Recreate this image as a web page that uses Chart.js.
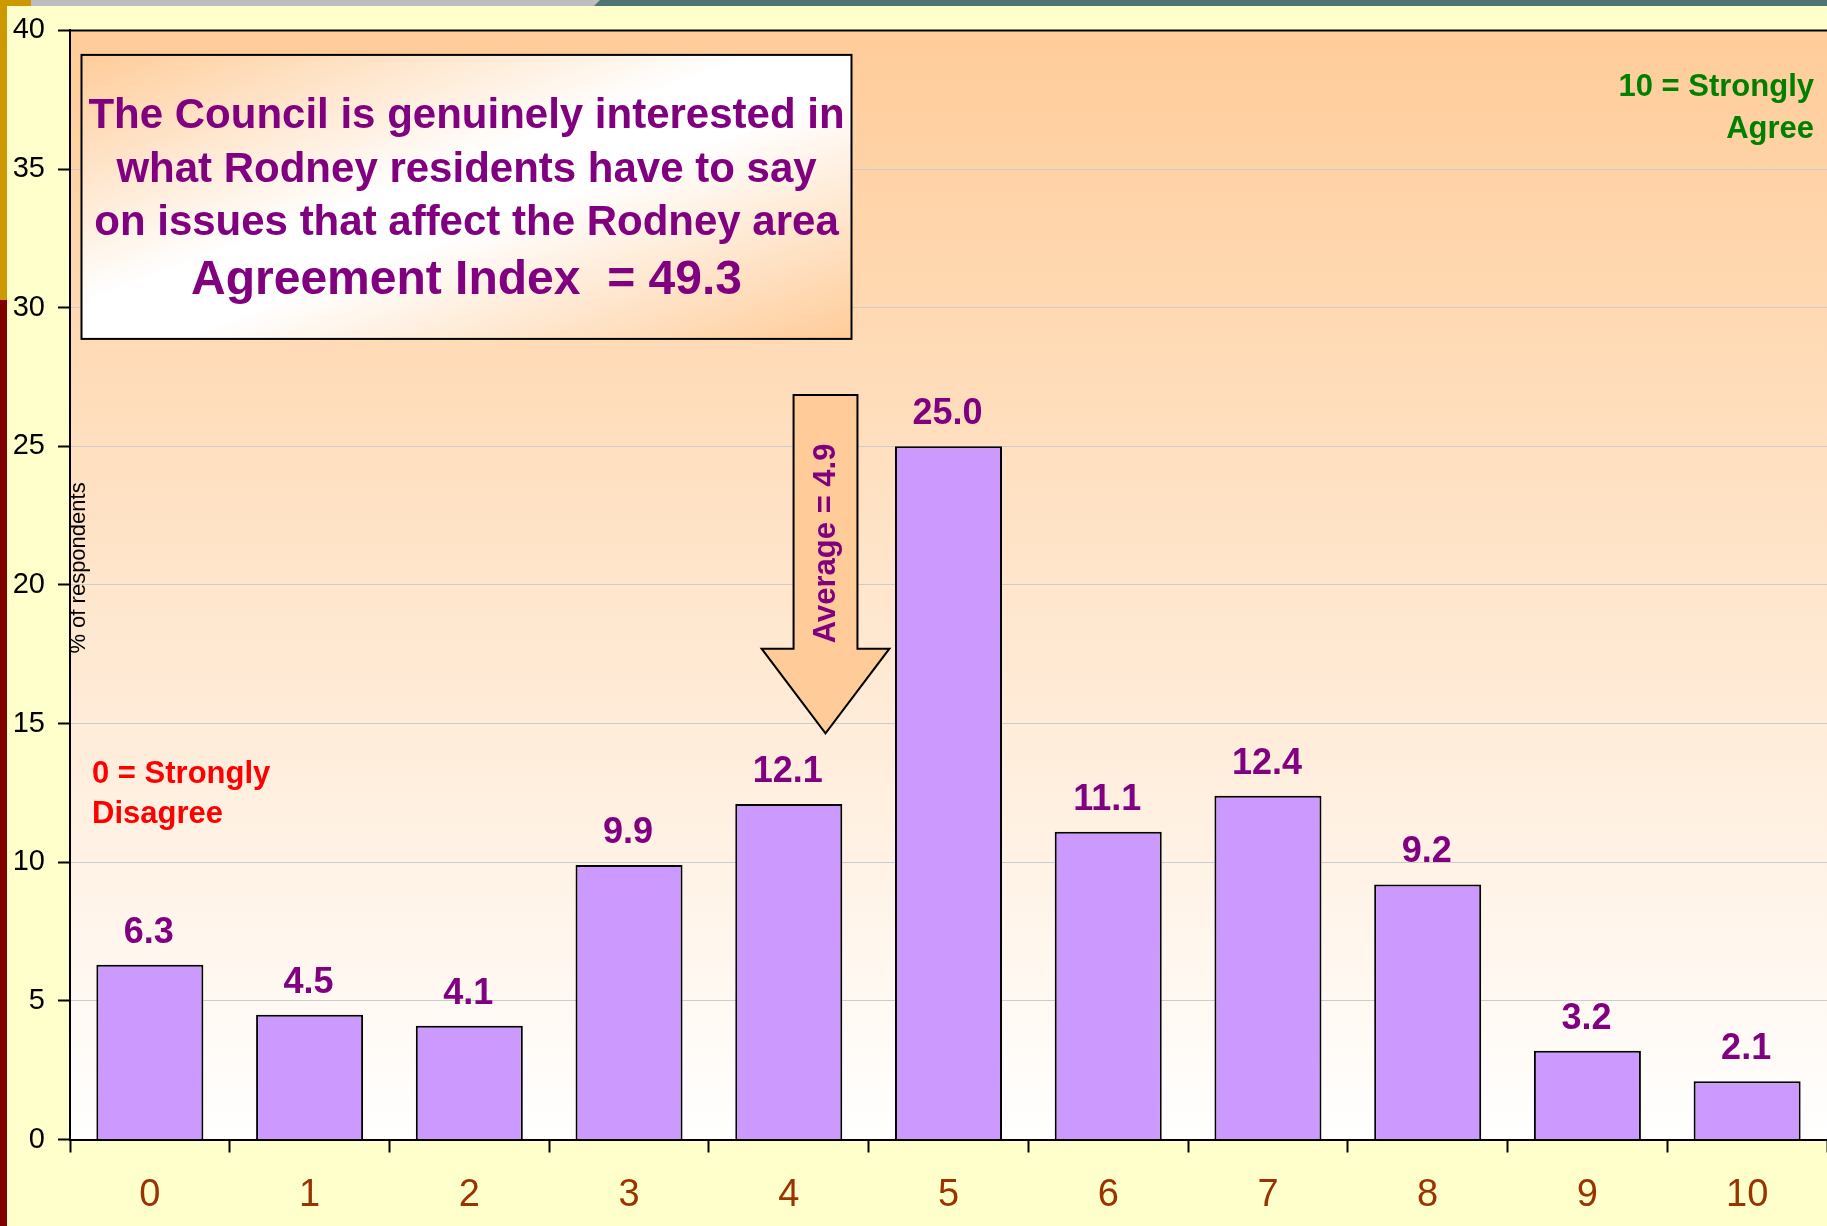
<!DOCTYPE html>
<html>
<head>
<meta charset="utf-8">
<title>Council interest rating</title>
<script src="https://cdn.jsdelivr.net/npm/chart.js@4.4.1/dist/chart.umd.min.js"></script>
<style>
  html, body { margin: 0; padding: 0; background: #FFFFCC; overflow: hidden; }
  canvas { display: block; }
</style>
</head>
<body>
<canvas id="chart" width="1827" height="1226"></canvas>
<script>
// Rating scale 0 (strongly disagree) .. 10 (strongly agree)
const categories = ['0', '1', '2', '3', '4', '5', '6', '7', '8', '9', '10'];
// Share of respondents giving each rating (%)
const respondents = [6.3, 4.5, 4.1, 9.9, 12.1, 25.0, 11.1, 12.4, 9.2, 3.2, 2.1];
// Value axis ticks
const yTickValues = [0, 5, 10, 15, 20, 25, 30, 35, 40];

const statementLines = [
  'The Council is genuinely interested in',
  'what Rodney residents have to say',
  'on issues that affect the Rodney area'
];
const agreementIndex = 49.3;
const averageScore = 4.9;
const highEndLabel = ['10 = Strongly', 'Agree'];
const lowEndLabel = ['0 = Strongly', 'Disagree'];
const yAxisTitle = '% of respondents';

const FONT = '"Liberation Sans", Arial, Helvetica, sans-serif';
const PURPLE = '#800080';

// Slide background, frame strips and the plot-area wash
const backdrop = {
  id: 'backdrop',
  beforeDraw(chart) {
    const { ctx, chartArea: a, width, height } = chart;
    ctx.save();
    ctx.fillStyle = '#FFFFCC';
    ctx.fillRect(0, 0, width, height);

    ctx.fillStyle = '#BDBDBD';
    ctx.fillRect(0, 0, 600, 6);
    ctx.fillStyle = '#4E7573';
    ctx.beginPath();
    ctx.moveTo(600, 0); ctx.lineTo(width, 0); ctx.lineTo(width, 6); ctx.lineTo(594, 6);
    ctx.closePath(); ctx.fill();
    ctx.fillStyle = '#CC9900';
    ctx.fillRect(0, 0, 31, 6);
    ctx.fillRect(0, 0, 7, 300);
    ctx.fillStyle = '#800000';
    ctx.fillRect(0, 300, 7, height - 300);

    const g = ctx.createLinearGradient(0, a.top, 0, a.bottom);
    g.addColorStop(0, '#FFCC99');
    g.addColorStop(1, '#FFFFFF');
    ctx.fillStyle = g;
    ctx.fillRect(a.left, a.top, a.right - a.left, a.bottom - a.top);
    ctx.restore();
  }
};

// Value labels, callouts and axis title
const overlays = {
  id: 'overlays',
  afterDatasetsDraw(chart) {
    const { ctx, chartArea: a } = chart;
    const xs = chart.scales.x, ys = chart.scales.y;
    ctx.save();

    // plot-area top edge
    ctx.strokeStyle = '#000';
    ctx.lineWidth = 2;
    ctx.beginPath();
    ctx.moveTo(a.left, a.top); ctx.lineTo(a.right, a.top);
    ctx.stroke();

    // values above the bars
    ctx.fillStyle = PURPLE;
    ctx.font = 'bold 36px ' + FONT;
    ctx.textAlign = 'center';
    ctx.textBaseline = 'alphabetic';
    chart.getDatasetMeta(0).data.forEach((bar, i) => {
      ctx.fillText(respondents[i].toFixed(1), bar.x - 1, bar.y - 22);
    });

    // y axis title, inside the plot area
    ctx.save();
    ctx.translate(a.left + 15, (a.top + a.bottom) / 2 - 17);
    ctx.rotate(-Math.PI / 2);
    ctx.fillStyle = '#000';
    ctx.font = '22px ' + FONT;
    ctx.textAlign = 'center';
    ctx.fillText(yAxisTitle, 0, 0);
    ctx.restore();

    // average arrow
    const catW = xs.getPixelForValue(1) - xs.getPixelForValue(0);
    const cx = xs.getPixelForValue(4) + 0.23 * catW;
    const shaft = 0.2 * catW, head = 0.4 * catW;
    const yTop = ys.getPixelForValue(26.85);
    const yNeck = ys.getPixelForValue(17.7);
    const yTip = ys.getPixelForValue(14.65);
    ctx.beginPath();
    ctx.moveTo(cx - shaft, yTop);
    ctx.lineTo(cx + shaft, yTop);
    ctx.lineTo(cx + shaft, yNeck);
    ctx.lineTo(cx + head, yNeck);
    ctx.lineTo(cx, yTip);
    ctx.lineTo(cx - head, yNeck);
    ctx.lineTo(cx - shaft, yNeck);
    ctx.closePath();
    ctx.fillStyle = '#FFCC99';
    ctx.fill();
    ctx.lineWidth = 2;
    ctx.lineJoin = 'miter';
    ctx.strokeStyle = '#000';
    ctx.stroke();

    ctx.save();
    ctx.translate(cx + 9, ys.getPixelForValue(21.5));
    ctx.rotate(-Math.PI / 2);
    ctx.fillStyle = PURPLE;
    ctx.font = 'bold 31px ' + FONT;
    ctx.textAlign = 'center';
    ctx.fillText('Average = ' + averageScore.toFixed(1), 0, 0);
    ctx.restore();

    // statement box
    const bx = a.left + 11.5, by = a.top + 24.5, bw = 770, bh = 284;
    const n = Math.hypot(bw, bh), L = bw * bh / n;
    const ux = bh / n, uy = bw / n;
    const mx = bx + bw / 2, my = by + bh / 2;
    const bg = ctx.createLinearGradient(mx - ux * L, my - uy * L, mx + ux * L, my + uy * L);
    bg.addColorStop(0, '#FFCC99');
    bg.addColorStop(0.44, '#FFFFFF');
    bg.addColorStop(0.56, '#FFFFFF');
    bg.addColorStop(1, '#FFCC99');
    ctx.fillStyle = bg;
    ctx.fillRect(bx, by, bw, bh);
    ctx.lineWidth = 2;
    ctx.strokeStyle = '#000';
    ctx.strokeRect(bx, by, bw, bh);

    ctx.fillStyle = PURPLE;
    ctx.textAlign = 'center';
    ctx.font = 'bold 42px ' + FONT;
    statementLines.forEach((line, i) => {
      ctx.fillText(line, mx, by + 73.5 + i * 53.5);
    });
    ctx.font = 'bold 48px ' + FONT;
    ctx.fillText('Agreement Index  = ' + agreementIndex.toFixed(1), mx, by + 239.5);

    // scale end descriptors
    ctx.font = 'bold 31px ' + FONT;
    ctx.fillStyle = '#008000';
    ctx.textAlign = 'right';
    highEndLabel.forEach((line, i) => ctx.fillText(line, a.right - 13, a.top + 66 + i * 42));
    ctx.fillStyle = '#FF0000';
    ctx.textAlign = 'left';
    lowEndLabel.forEach((line, i) => ctx.fillText(line, a.left + 22, 783 + i * 40));

    ctx.restore();
  }
};

new Chart(document.getElementById('chart'), {
  type: 'bar',
  data: {
    labels: categories,
    datasets: [{
      data: respondents,
      backgroundColor: '#CC99FF',
      borderColor: '#000000',
      borderWidth: 2,
      barPercentage: 0.67,
      categoryPercentage: 1
    }]
  },
  options: {
    responsive: false,
    animation: false,
    devicePixelRatio: 1,
    layout: { padding: { top: 30, left: 0, right: 0, bottom: 0 } },
    plugins: { legend: { display: false }, tooltip: { enabled: false } },
    scales: {
      x: {
        grid: { offset: true, drawOnChartArea: false, tickLength: 13, tickColor: '#000', tickWidth: 2 },
        border: { color: '#000', width: 2 },
        ticks: { color: '#993300', font: { family: FONT, size: 38 }, padding: 20, maxRotation: 0 },
        afterFit(s) { s.height = 86.5; }
      },
      y: {
        min: 0,
        max: 40,
        afterBuildTicks(s) { s.ticks = yTickValues.map(v => ({ value: v })); },
        ticks: { color: '#000', font: { family: FONT, size: 29 }, padding: 13 },
        grid: { color: '#CCCCCC', lineWidth: 1, tickColor: '#000', tickLength: 12, tickWidth: 2 },
        border: { color: '#000', width: 2 },
        afterFit(s) { s.width = 70; }
      }
    }
  },
  plugins: [backdrop, overlays]
});
</script>
</body>
</html>
